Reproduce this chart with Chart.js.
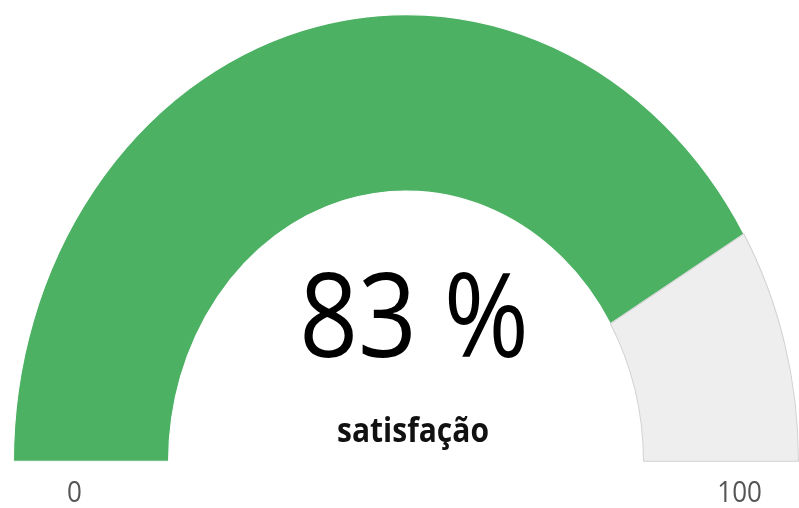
<!DOCTYPE html>
<html>
<head>
<meta charset="utf-8">
<script src="https://cdn.jsdelivr.net/npm/chart.js@4"></script>
<style>
html,body{margin:0;padding:0;background:#fff;}
#wrap{width:799px;height:508px;position:relative;}
</style>
</head>
<body>
<div id="wrap"><canvas id="c" width="799" height="508"></canvas></div>
<script>
// data
const categories = ['satisfação', 'restante'];
const value = 83;
const maxValue = 100;
const seriesValues = [value, maxValue - value];
const centerText = value + ' %';
const subtitle = 'satisfação';
const tickLabels = ['0', '100'];

const STRETCH = 1.138;

function withStretch(chart, fn) {
  const meta = chart.getDatasetMeta(0);
  const arc = meta.data[0];
  if (!arc) return;
  const cx = arc.x, cy = arc.y;
  const ctx = chart.ctx;
  ctx.save();
  ctx.translate(cx, cy);
  ctx.scale(1, STRETCH);
  ctx.translate(-cx, -cy);
  fn(ctx, cx, cy, arc);
  ctx.restore();
}

const stretchPlugin = {
  id: 'stretch',
  beforeDatasetsDraw(chart) {
    const meta = chart.getDatasetMeta(0);
    const arc = meta.data[0];
    const cx = arc.x, cy = arc.y;
    const ctx = chart.ctx;
    ctx.save();
    ctx.translate(cx, cy);
    ctx.scale(1, STRETCH);
    ctx.translate(-cx, -cy);
  },
  afterDatasetsDraw(chart) {
    chart.ctx.restore();
  },
  afterDraw(chart) {
    withStretch(chart, (ctx, cx, cy, arc) => {
      const R = arc.outerRadius;
      ctx.textAlign = 'center';
      ctx.textBaseline = 'alphabetic';
      ctx.fillStyle = '#000';
      ctx.font = '103px "Open Sans"';
      ctx.fillText(centerText, cx + 8, cy - 92);
      ctx.fillStyle = '#111';
      ctx.font = 'bold 30px "Open Sans"';
      ctx.fillText(subtitle, cx + 7, cy - 16.5);
      ctx.fillStyle = '#555';
      ctx.font = '26px "Open Sans"';
      ctx.fillText(tickLabels[0], cx - R * 0.845, cy + 36);
      ctx.fillText(tickLabels[1], cx + R * 0.85, cy + 36);
    });
  }
};

new Chart(document.getElementById('c'), {
  type: 'doughnut',
  data: {
    labels: categories,
    datasets: [{
      data: seriesValues,
      backgroundColor: ['#4DB164', '#EEEEEE'],
      borderColor: ['#ffffff', '#D2D2D2'],
      borderWidth: [1, 1],
      hoverOffset: 0
    }]
  },
  options: {
    responsive: false,
    animation: false,
    rotation: -90,
    circumference: 180,
    cutout: '60.5%',
    layout: { padding: { left: 13, right: 0, top: 68, bottom: 46 } },
    plugins: {
      legend: { display: false },
      tooltip: { enabled: false }
    }
  },
  plugins: [stretchPlugin]
});
</script>
</body>
</html>
